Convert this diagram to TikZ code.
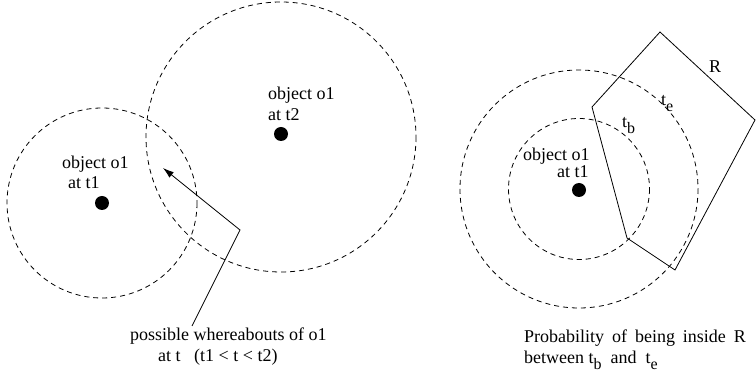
\documentclass[tikz,border=0pt]{standalone}
\usepackage{fontspec}
\setmainfont{Liberation Serif}
\usetikzlibrary{arrows.meta}
\newcommand{\mysub}[1]{\raisebox{-6pt}{\fontsize{16}{16}\selectfont #1}}
\tikzset{
  lbl/.style={anchor=base west, inner sep=0pt, font=\fontsize{18}{21}\selectfont},
  dot/.style={circle, fill=black, minimum size=14pt, inner sep=0pt},
  zone/.style={draw=black, line width=0.8pt, dash pattern=on 5pt off 4pt},
  solidline/.style={draw=black, line width=0.8pt},
}
\begin{document}
\begin{tikzpicture}[x=1pt, y=-1pt]
\path[use as bounding box] (0,0) rectangle (756,379);

% left diagram
\node[dot] (d1) at (102,203) {};
\node[dot] (d2) at (281,134) {};
\draw[zone] (d1.center) circle (95);
\draw[zone] (281,137) circle (135);
\node[lbl] (o1a) at (62,169) {object o1};
\node[lbl] (t1a) at (68,189) {at t1};
\node[lbl] (o1b) at (268,100) {object o1};
\node[lbl] (t2b) at (268,121) {at t2};

\coordinate (lend) at (192,326);
\coordinate (lbend) at (240,230);
\coordinate (ltip) at (163,168);
\draw[solidline, -{Latex[length=11pt, width=7pt]}] (lend) -- (lbend) -- (ltip);

\node[lbl] (pw) at (130,341) {possible whereabouts of o1};
\node[lbl] (pt) at (158,362) {at t \ \ (t1 {<} t {<} t2)};

% right diagram
\node[dot] (d3) at (579,190) {};
\draw[zone] (579,189) circle (70.5);
\draw[zone] (579,189) circle (119);
\node[lbl] (o1c) at (523,161) {object o1};
\node[lbl] (t1c) at (557,178) {at t1};

\coordinate (r1) at (592,107);
\coordinate (r2) at (660,32);
\coordinate (r3) at (755,120);
\coordinate (r4) at (675,270);
\coordinate (r5) at (627,238);
\draw[solidline, line join=miter] (r1) -- (r2) -- (r3) -- (r4) -- (r5) -- cycle;

\node[lbl] (rl) at (709,73) {R};
\node[lbl] (te) at (661,106) {t\mysub{e}};
\node[lbl] (tb) at (622,128) {t\mysub{b}};

\node[lbl] (pr) at (524,343) {\spaceskip=0.44em Probability of being inside R};
\node[lbl] (bw) at (524,364) {between t\mysub{b} \ and \ t\mysub{e}};
\end{tikzpicture}
\end{document}
